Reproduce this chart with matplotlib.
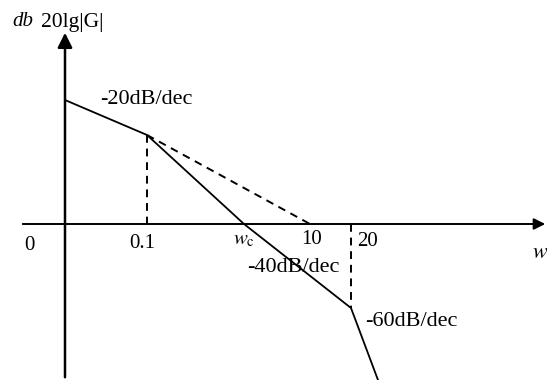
import matplotlib.pyplot as plt

plt.rcParams["font.family"] = ["Liberation Serif", "DejaVu Serif"]

# asymptote corner points (sketch coordinates: x right, y down)
line_x = [65, 147, 244, 351, 378]
line_y = [100, 135, 224, 308, 380]

# dashed construction lines
dash_a_x = [147, 147]
dash_a_y = [135, 224]
dash_b_x = [147, 310]
dash_b_y = [135, 224]
dash_c_x = [351, 351]
dash_c_y = [224, 308]

# axis tick labels
tick_labels = ["0", "0.1", "10", "20"]
tick_x = [29, 142, 312, 368]
tick_y = [245, 244, 240, 241]

slope_labels = ["-20dB/dec", "-40dB/dec", "-60dB/dec"]
slope_x = [100, 247, 365]
slope_y = [100, 268, 321]

fig = plt.figure(figsize=(5.47, 3.80), dpi=100)
ax = fig.add_axes([0, 0, 1, 1])
ax.set_xlim(0, 547)
ax.set_ylim(380, 0)
ax.axis("off")

# axes with arrows
ax.annotate("", xy=(548, 224), xytext=(20, 224), annotation_clip=False,
            arrowprops=dict(arrowstyle="-|>", color="black", lw=1.4, mutation_scale=17))
ax.annotate("", xy=(65, 30), xytext=(65, 380), annotation_clip=False,
            arrowprops=dict(arrowstyle="-|>", color="black", lw=1.8, mutation_scale=22))

ax.plot(line_x, line_y, color="black", lw=1.3)
ax.plot(dash_a_x, dash_a_y, color="black", lw=1.4, ls=(0, (4, 3)))
ax.plot(dash_b_x, dash_b_y, color="black", lw=1.4, ls=(0, (4, 3)))
ax.plot(dash_c_x, dash_c_y, color="black", lw=1.4, ls=(0, (4, 3)))

for label, x, y in zip(tick_labels, tick_x, tick_y):
    ax.text(x, y, label, fontsize=15, ha="center", va="center")

for label, x, y in zip(slope_labels, slope_x, slope_y):
    ax.text(x, y, label, fontsize=16, ha="left", va="center")

ax.text(244, 240, r"$w_{\mathrm{c}}$", fontsize=15, ha="center", va="center",
        math_fontfamily="stix")
ax.text(540, 254, r"$w$", fontsize=16, ha="center", va="center", math_fontfamily="stix")
ax.text(12, 22, "db", fontsize=15, style="italic", ha="left", va="center")
ax.text(41, 22, "20lg|G|", fontsize=15.5, ha="left", va="center")

fig.savefig("out.png", dpi=100, facecolor="white")
